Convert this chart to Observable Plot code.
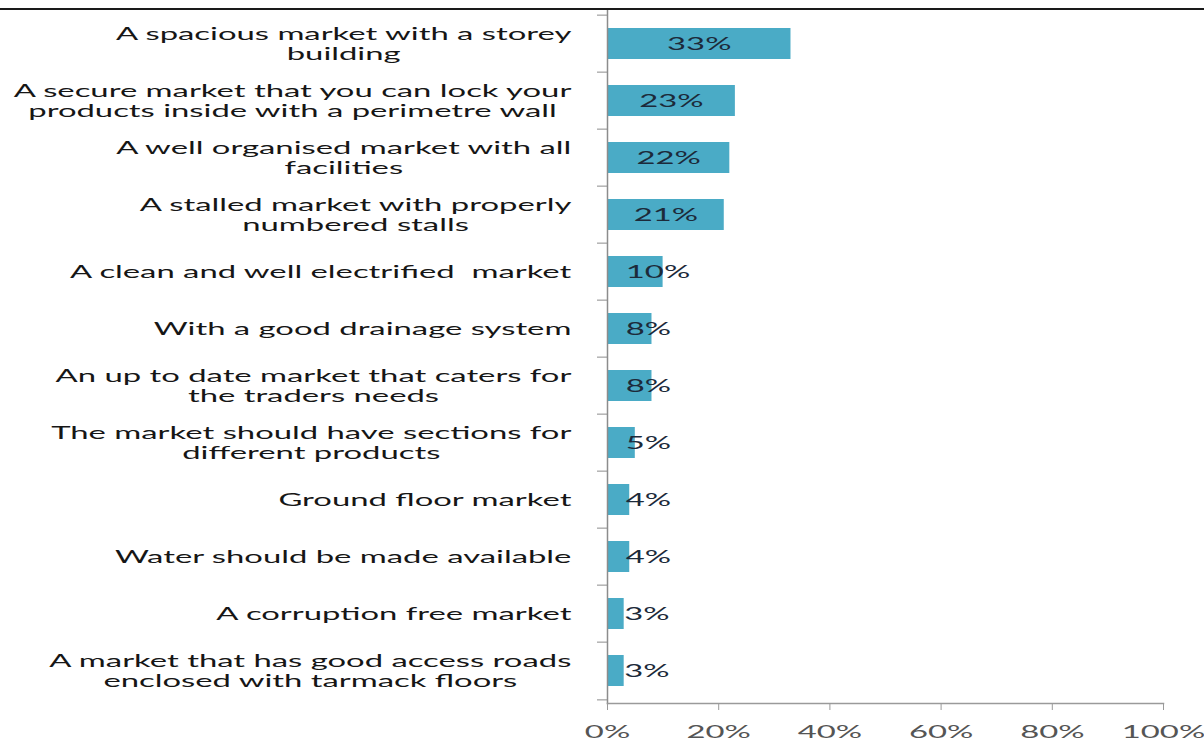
<!DOCTYPE html>
<html>
<head>
<meta charset="utf-8">
<script src="https://cdn.jsdelivr.net/npm/d3@7"></script>
<script src="https://cdn.jsdelivr.net/npm/@observablehq/plot@0.6"></script>
<style>
  html, body { margin: 0; padding: 0; background: #fff; }
  #chart { margin-top: 8px; border-top: 2px solid #1a1a1a; width: 1204px; }
  #chart svg { display: block; }
</style>
</head>
<body>
<div id="chart"></div>
<script>
const categories = [
  "A spacious market with a storey\nbuilding",
  "A secure market that you can lock your\nproducts inside with a perimetre wall",
  "A well organised market with all\nfacilities",
  "A stalled market with properly\nnumbered stalls",
  "A clean and well electrified  market",
  "With a good drainage system",
  "An up to date market that caters for\nthe traders needs",
  "The market should have sections for\ndifferent products",
  "Ground floor market",
  "Water should be made available",
  "A corruption free market",
  "A market that has good access roads\nenclosed with tarmack floors"
];
const values = [33, 23, 22, 21, 10, 8, 8, 5, 4, 4, 3, 3];
const xTicks = [0, 20, 40, 60, 80, 100];

const data = categories.map((c, i) => ({category: c, value: values[i]}));

const W = 1204, H = 731;
const mL = 607, mR = 41, mT = 0, mB = 38;
const bw = (H - mT - mB) / categories.length;

const chart = Plot.plot({
  width: W, height: H,
  marginLeft: mL, marginRight: mR, marginTop: mT, marginBottom: mB,
  style: {fontFamily: "Lato", fontSize: "18px", background: "#fff"},
  x: {domain: [0, 100]},
  y: {domain: categories, padding: 0},
  marks: [
    Plot.barX(data, {x: "value", y: "category", fill: "#4aabc6", insetTop: 13, insetBottom: 13}),
    Plot.frame({anchor: "left", stroke: "#8c8c8c", strokeWidth: 1.5}),
    Plot.frame({anchor: "bottom", stroke: "#9a9a9a", strokeWidth: 1.5}),
    Plot.axisX({ticks: xTicks, tickFormat: d => d + "%", tickSize: 7, tickPadding: 15,
      stroke: "#9a9a9a", fill: "#555", fontSize: 18, label: null}),
    Plot.axisY({tickSize: 0, tickPadding: 36, fill: "#161616", fontSize: 18, lineHeight: 1.11, label: null}),
    Plot.axisY({tickSize: 10, tickFormat: () => "", dy: -bw / 2, stroke: "#8c8c8c", label: null}),
    Plot.axisY({ticks: [categories[categories.length - 1]], tickSize: 10, tickFormat: () => "", dy: bw / 2, stroke: "#8c8c8c", label: null}),
    Plot.text(data.filter(d => d.value >= 20), {x: d => d.value / 2, y: "category", text: d => d.value + "%",
      textAnchor: "middle", fill: "#1c2a3a", fontSize: 18}),
    Plot.text(data.filter(d => d.value < 20), {x: d => Math.min(d.value, 3.3), y: "category", text: d => d.value + "%",
      textAnchor: "start", fill: "#1c2a3a", fontSize: 18})
  ]
});

document.getElementById("chart").appendChild(chart);

// horizontal stretch of the text glyphs, as in the reference
const svg = chart;
const texts = Array.from(svg.querySelectorAll("text"));
const lineWidth = t => {
  const ts = t.querySelectorAll("tspan");
  if (!ts.length) return t.getComputedTextLength();
  return d3.max(Array.from(ts), s => s.getComputedTextLength());
};
const yLabels = texts.filter(t => t.closest('g[aria-label="y-axis tick label"]') && t.textContent.trim());
const maxW = d3.max(yLabels, lineWidth) || 1;
const SX = 558 / maxW;
texts.forEach(t => {
  if (!t.textContent.trim()) return;
  const tr = t.getAttribute("transform") || "";
  if (yLabels.includes(t)) {
    const w = lineWidth(t);
    t.setAttribute("text-anchor", "middle");
    t.querySelectorAll("tspan").forEach(s => s.setAttribute("x", 0));
    t.setAttribute("transform", tr + ` translate(${-w * SX / 2},0) scale(${SX},1)`);
  } else {
    const x = +t.getAttribute("x") || 0;
    t.setAttribute("transform", tr + ` translate(${x},0) scale(${SX},1) translate(${-x},0)`);
  }
});
</script>
</body>
</html>
